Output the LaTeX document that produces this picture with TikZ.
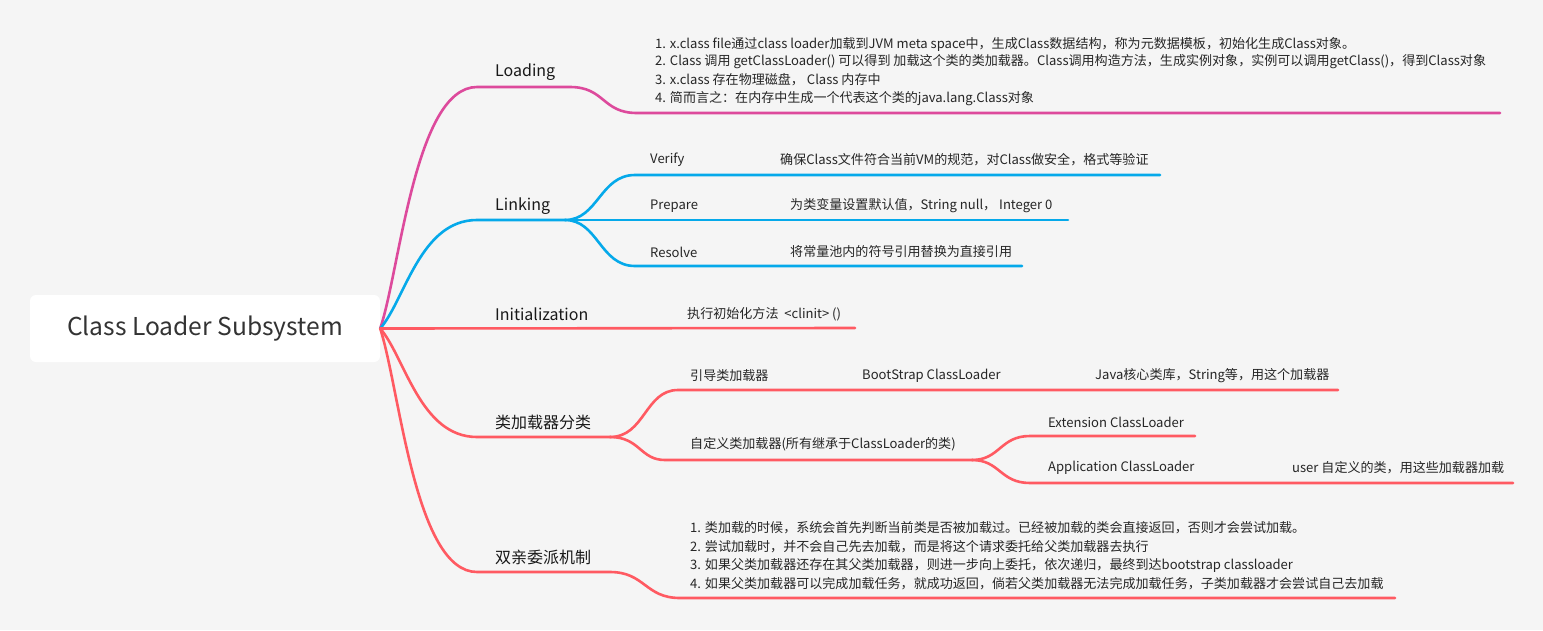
\documentclass[tikz,border=0pt]{standalone}
\usepackage{fontspec}
\setmainfont{Noto Sans CJK SC}
\definecolor{bg}{HTML}{F5F5F5}
\definecolor{mag}{HTML}{DD4A9C}
\definecolor{sky}{HTML}{05A9EA}
\definecolor{coral}{HTML}{FF5A62}
\begin{document}
\begin{tikzpicture}[x=1pt,y=-1pt,
  leaf/.style={anchor=west,inner sep=0pt,font=\fontsize{13.05}{15}\selectfont,text=black!85},
  topic/.style={anchor=west,inner sep=0pt,font=\fontsize{16}{18}\selectfont,text=black!90},
  wire/.style={line width=2.6pt,line cap=round}]
  \fill[bg] (0,0) rectangle (1543,630);
  \node[fill=white,rounded corners=6pt,minimum width=350pt,minimum height=67pt,inner sep=0pt,
    font=\fontsize{24.6}{28}\selectfont,text=black!80] (root) at (205,328.5) {Class Loader Subsystem};
  \coordinate (L1) at (477,87);
  \coordinate (L2) at (570,87);
  \coordinate (L3) at (637,113);
  \coordinate (L4) at (1500,113);
  \coordinate (K1) at (477,220);
  \coordinate (K2) at (565,220);
  \coordinate (V1) at (635,175);
  \coordinate (V2) at (1160,175);
  \coordinate (P2) at (1068,220);
  \coordinate (S1) at (635,266);
  \coordinate (S2) at (1022,266);
  \coordinate (I2) at (855,328);
  \coordinate (C1) at (477,437);
  \coordinate (C2) at (610,437);
  \coordinate (B1) at (678,390);
  \coordinate (B2) at (1338,390);
  \coordinate (U1) at (665,460);
  \coordinate (U2) at (972,460);
  \coordinate (E1) at (1030,436);
  \coordinate (E2) at (1195,436);
  \coordinate (A1) at (1030,483);
  \coordinate (A2) at (1513,483);
  \coordinate (D1) at (477,572);
  \coordinate (D2) at (610,572);
  \coordinate (D3) at (680,598);
  \coordinate (D4) at (1395,598);
  \draw[wire,mag] (root.east) .. controls (400,270) and (415,87) .. (L1) -- (L2)
    .. controls (605,87) and (602,113) .. (L3) -- (L4);
  \draw[wire,sky] (root.east) .. controls (405,300) and (420,220) .. (K1) -- (K2);
  \draw[wire,sky] (K2) .. controls (598,220) and (600,175) .. (V1) -- (V2);
  \draw[wire,sky] (K2) -- (P2);
  \draw[wire,sky] (K2) .. controls (598,220) and (600,266) .. (S1) -- (S2);
  \draw[wire,coral] (root.east) -- (I2);
  \draw[wire,coral] (root.east) .. controls (405,357) and (420,437) .. (C1) -- (C2);
  \draw[wire,coral] (C2) .. controls (645,437) and (645,390) .. (B1) -- (B2);
  \draw[wire,coral] (C2) .. controls (640,437) and (640,460) .. (U1) -- (U2);
  \draw[wire,coral] (U2) .. controls (1000,460) and (1000,436) .. (E1) -- (E2);
  \draw[wire,coral] (U2) .. controls (1000,460) and (1000,483) .. (A1) -- (A2);
  \draw[wire,coral] (root.east) .. controls (400,390) and (415,572) .. (D1) -- (D2)
    .. controls (645,572) and (645,598) .. (D3) -- (D4);
  \node[topic] (load) at (495,72) {Loading};
  \node[topic] (link) at (495,206) {Linking};
  \node[topic] (init) at (495,314) {Initialization};
  \node[topic] (kinds) at (495,422) {类加载器分类};
  \node[topic] (parent) at (495,557) {双亲委派机制};
  \node[leaf] (load1) at (655,44) {1. x.class file通过class loader加载到JVM meta space中，生成Class数据结构，称为元数据模板，初始化生成Class对象。};
  \node[leaf] (load2) at (655,62) {2. Class 调用 getClassLoader() 可以得到 加载这个类的类加载器。Class调用构造方法，生成实例对象，实例可以调用getClass()，得到Class对象};
  \node[leaf] (load3) at (655,80) {3. x.class 存在物理磁盘，\ Class 内存中};
  \node[leaf] (load4) at (655,99) {4. 简而言之：在内存中生成一个代表这个类的java.lang.Class对象};
  \node[leaf] (verify) at (650,160) {Verify};
  \node[leaf] (verifyd) at (780,160) {确保Class文件符合当前VM的规范，对Class做安全，格式等验证};
  \node[leaf] (prep) at (650,206) {Prepare};
  \node[leaf] (prepd) at (790,206) {为类变量设置默认值，String null，\ Integer 0};
  \node[leaf] (resol) at (650,252) {Resolve};
  \node[leaf] (resold) at (790,252) {将常量池内的符号引用替换为直接引用};
  \node[leaf] (initd) at (687,314) {执行初始化方法 \ <clinit> ()};
  \node[leaf] (boot) at (690,376) {引导类加载器};
  \node[leaf] (bootn) at (862,376) {BootStrap ClassLoader};
  \node[leaf] (bootd) at (1095,376) {Java核心类库，String等，用这个加载器};
  \node[leaf] (user) at (690,444) {自定义类加载器(所有继承于ClassLoader的类)};
  \node[leaf] (ext) at (1048,422) {Extension ClassLoader};
  \node[leaf] (app) at (1048,468) {Application ClassLoader};
  \node[leaf] (appd) at (1292,468) {user 自定义的类，用这些加载器加载};
  \node[leaf] (par1) at (690,528) {1. 类加载的时候，系统会首先判断当前类是否被加载过。已经被加载的类会直接返回，否则才会尝试加载。};
  \node[leaf] (par2) at (690,547) {2. 尝试加载时，并不会自己先去加载，而是将这个请求委托给父类加载器去执行};
  \node[leaf] (par3) at (690,565) {3. 如果父类加载器还存在其父类加载器，则进一步向上委托，依次递归，最终到达bootstrap classloader};
  \node[leaf] (par4) at (690,584) {4. 如果父类加载器可以完成加载任务，就成功返回，倘若父类加载器无法完成加载任务，子类加载器才会尝试自己去加载};
\end{tikzpicture}
\end{document}
